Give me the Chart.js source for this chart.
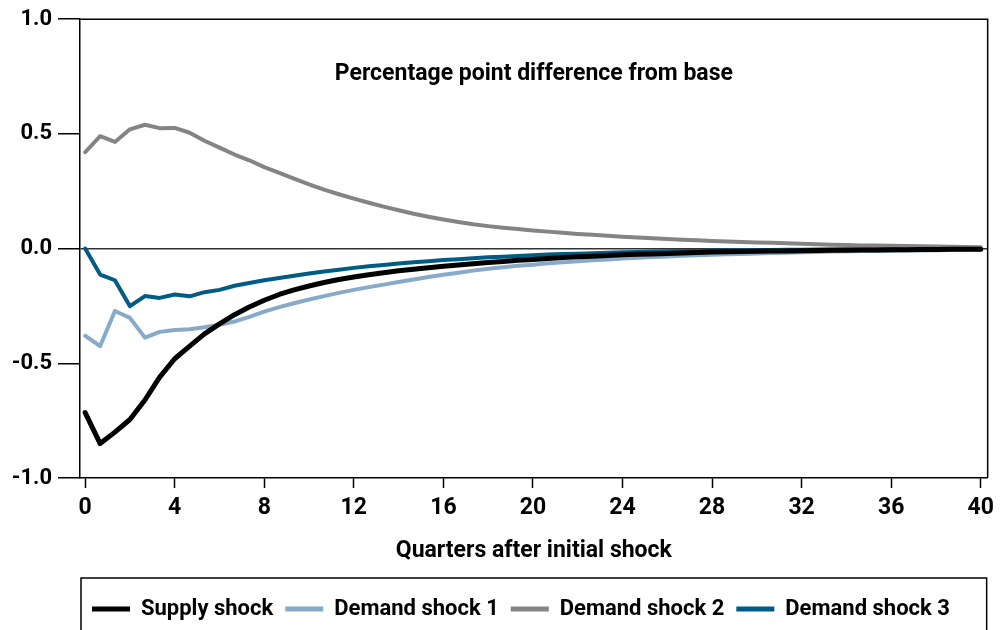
<!DOCTYPE html>
<html>
<head>
<meta charset="utf-8">
<script src="https://cdn.jsdelivr.net/npm/chart.js@4.4.1/dist/chart.umd.min.js"></script>
<style>
  body { margin: 0; background: #fff; }
  canvas { display: block; }
</style>
</head>
<body>
<canvas id="chart" width="1000" height="630"></canvas>
<script>
// quarters after the shock (two points per quarter and a bit)
const quarters = [0, 0.67, 1.33, 2, 2.67, 3.33, 4, 4.67, 5.33, 6, 6.67, 7.33, 8, 8.67, 9.33, 10,
    10.67, 11.33, 12, 12.67, 13.33, 14, 14.67, 15.33, 16, 16.67, 17.33, 18, 18.67, 19.33, 20,
    20.67, 21.33, 22, 22.67, 23.33, 24, 24.67, 25.33, 26, 26.67, 27.33, 28, 28.67, 29.33, 30,
    30.67, 31.33, 32, 32.67, 33.33, 34, 34.67, 35.33, 36, 36.67, 37.33, 38, 38.67, 39.33, 40];

const supplyShock = [-0.715, -0.85, -0.80, -0.745, -0.66, -0.56, -0.48, -0.425, -0.372, -0.328,
    -0.288, -0.255, -0.225, -0.2, -0.18, -0.163, -0.148, -0.135, -0.124, -0.114,
    -0.105, -0.097, -0.09, -0.083, -0.077, -0.071, -0.066, -0.061, -0.056, -0.051,
    -0.047, -0.043, -0.039, -0.036, -0.033, -0.030, -0.027, -0.025, -0.023, -0.021,
    -0.019, -0.017, -0.015, -0.014, -0.013, -0.012, -0.011, -0.010, -0.009, -0.008,
    -0.007, -0.007, -0.006, -0.006, -0.005, -0.005, -0.004, -0.004, -0.003, -0.003, -0.003];

const demandShock1 = [-0.38, -0.425, -0.272, -0.302, -0.388, -0.363, -0.355, -0.352, -0.343, -0.332,
    -0.318, -0.298, -0.275, -0.255, -0.238, -0.222, -0.207, -0.193, -0.18, -0.168,
    -0.157, -0.146, -0.135, -0.124, -0.114, -0.105, -0.096, -0.088, -0.081, -0.075,
    -0.070, -0.064, -0.059, -0.055, -0.051, -0.047, -0.043, -0.040, -0.037, -0.034,
    -0.031, -0.029, -0.027, -0.025, -0.023, -0.021, -0.019, -0.018, -0.016, -0.015,
    -0.013, -0.012, -0.011, -0.010, -0.009, -0.008, -0.008, -0.007, -0.006, -0.006, -0.005];

const demandShock2 = [0.42, 0.49, 0.465, 0.52, 0.54, 0.525, 0.526, 0.505, 0.47, 0.44,
    0.41, 0.385, 0.355, 0.33, 0.305, 0.28, 0.257, 0.237, 0.218, 0.2,
    0.183, 0.167, 0.152, 0.139, 0.127, 0.116, 0.106, 0.098, 0.091, 0.085,
    0.079, 0.074, 0.069, 0.064, 0.06, 0.056, 0.052, 0.048, 0.045, 0.042,
    0.039, 0.036, 0.033, 0.031, 0.029, 0.027, 0.025, 0.023, 0.021, 0.019,
    0.017, 0.016, 0.014, 0.013, 0.012, 0.011, 0.010, 0.009, 0.008, 0.007, 0.006];

const demandShock3 = [0, -0.113, -0.138, -0.251, -0.207, -0.215, -0.2, -0.208, -0.19, -0.18,
    -0.162, -0.15, -0.138, -0.128, -0.118, -0.109, -0.1, -0.092, -0.084, -0.077,
    -0.071, -0.065, -0.06, -0.055, -0.05, -0.046, -0.042, -0.038, -0.035, -0.032,
    -0.029, -0.026, -0.024, -0.022, -0.02, -0.018, -0.016, -0.015, -0.013, -0.012,
    -0.011, -0.01, -0.009, -0.008, -0.007, -0.007, -0.006, -0.005, -0.005, -0.004,
    -0.004, -0.003, -0.003, -0.003, -0.002, -0.002, -0.002, -0.002, -0.001, -0.001, -0.001];

const xTicks = [0, 4, 8, 12, 16, 20, 24, 28, 32, 36, 40];
const yTicks = [-1, -0.5, 0, 0.5, 1];

const chartTitle = 'Percentage point difference from base';
const xTitle = 'Quarters after initial shock';

const fontFamily = 'Roboto, "DejaVu Sans", sans-serif';
Chart.defaults.font.family = fontFamily;
Chart.defaults.font.weight = 'bold';
Chart.defaults.color = '#000';

function points(values) {
    return quarters.map((q, i) => ({ x: q, y: values[i] }));
}

function line(label, values, color, width) {
    return {
        label: label,
        data: points(values),
        borderColor: color,
        backgroundColor: color,
        borderWidth: width,
        pointRadius: 0,
        tension: 0,
        borderJoinStyle: 'round',
        borderCapStyle: 'round'
    };
}

// box round the plot, the inner heading and the legend frame
const framePlugin = {
    id: 'frame',
    afterDraw(chart) {
        const { ctx, chartArea: a, legend } = chart;
        ctx.save();
        ctx.strokeStyle = '#000';
        ctx.lineWidth = 1.5;
        ctx.beginPath();
        ctx.moveTo(a.left, a.top);
        ctx.lineTo(a.right, a.top);
        ctx.lineTo(a.right, a.bottom);
        ctx.stroke();

        ctx.strokeRect(a.left + 1, legend.top - 8, a.right - a.left - 2, 100);

        ctx.font = 'bold 23px ' + fontFamily;
        ctx.fillStyle = '#000';
        ctx.textAlign = 'center';
        ctx.textBaseline = 'middle';
        ctx.fillText(chartTitle, (a.left + a.right) / 2, a.top + 55);
        ctx.restore();
    }
};

new Chart(document.getElementById('chart'), {
    type: 'line',
    data: {
        datasets: [
            line('Supply shock', supplyShock, '#000000', 5),
            line('Demand shock 1', demandShock1, '#86aac8', 4),
            line('Demand shock 2', demandShock2, '#848484', 4),
            line('Demand shock 3', demandShock3, '#005b85', 4)
        ]
    },
    options: {
        responsive: false,
        animation: false,
        layout: { padding: { top: 18, right: 11, left: 0, bottom: 0 } },
        plugins: {
            legend: {
                position: 'bottom',
                fullSize: false,
                align: 'start',
                labels: {
                    font: { size: 22, weight: 'bold' },
                    color: '#000',
                    boxWidth: 38,
                    boxHeight: 5,
                    padding: 12,
                    generateLabels: chart => Chart.defaults.plugins.legend.labels.generateLabels(chart)
                        .map(item => Object.assign(item, { lineWidth: 0 }))
                }
            },
            tooltip: { enabled: false }
        },
        scales: {
            x: {
                type: 'linear',
                min: -0.23,
                max: 40.31,
                afterBuildTicks: s => { s.ticks = xTicks.map(v => ({ value: v })); },
                afterFit: s => { s.height = 108; },
                border: { color: '#000', width: 1.5 },
                grid: { drawOnChartArea: false, tickLength: 10, tickColor: '#000', tickWidth: 1.5 },
                ticks: { font: { size: 23, weight: 'bold' }, padding: 6, maxRotation: 0, autoSkip: false },
                title: {
                    display: true,
                    text: xTitle,
                    font: { size: 23, weight: 'bold' },
                    padding: { top: 0, bottom: 21 }
                }
            },
            y: {
                min: -1,
                max: 1,
                afterBuildTicks: s => { s.ticks = yTicks.map(v => ({ value: v })); },
                afterFit: s => { s.width = 80; },
                border: { color: '#000', width: 1.5 },
                grid: {
                    color: c => c.tick && c.tick.value === 0 ? '#333' : 'rgba(0,0,0,0)',
                    lineWidth: 1.5,
                    tickLength: 22,
                    tickColor: '#000',
                    tickWidth: 1.5
                },
                ticks: { font: { size: 22, weight: 'bold' }, padding: 6, callback: v => v.toFixed(1) }
            }
        }
    },
    plugins: [framePlugin]
});
</script>
</body>
</html>
